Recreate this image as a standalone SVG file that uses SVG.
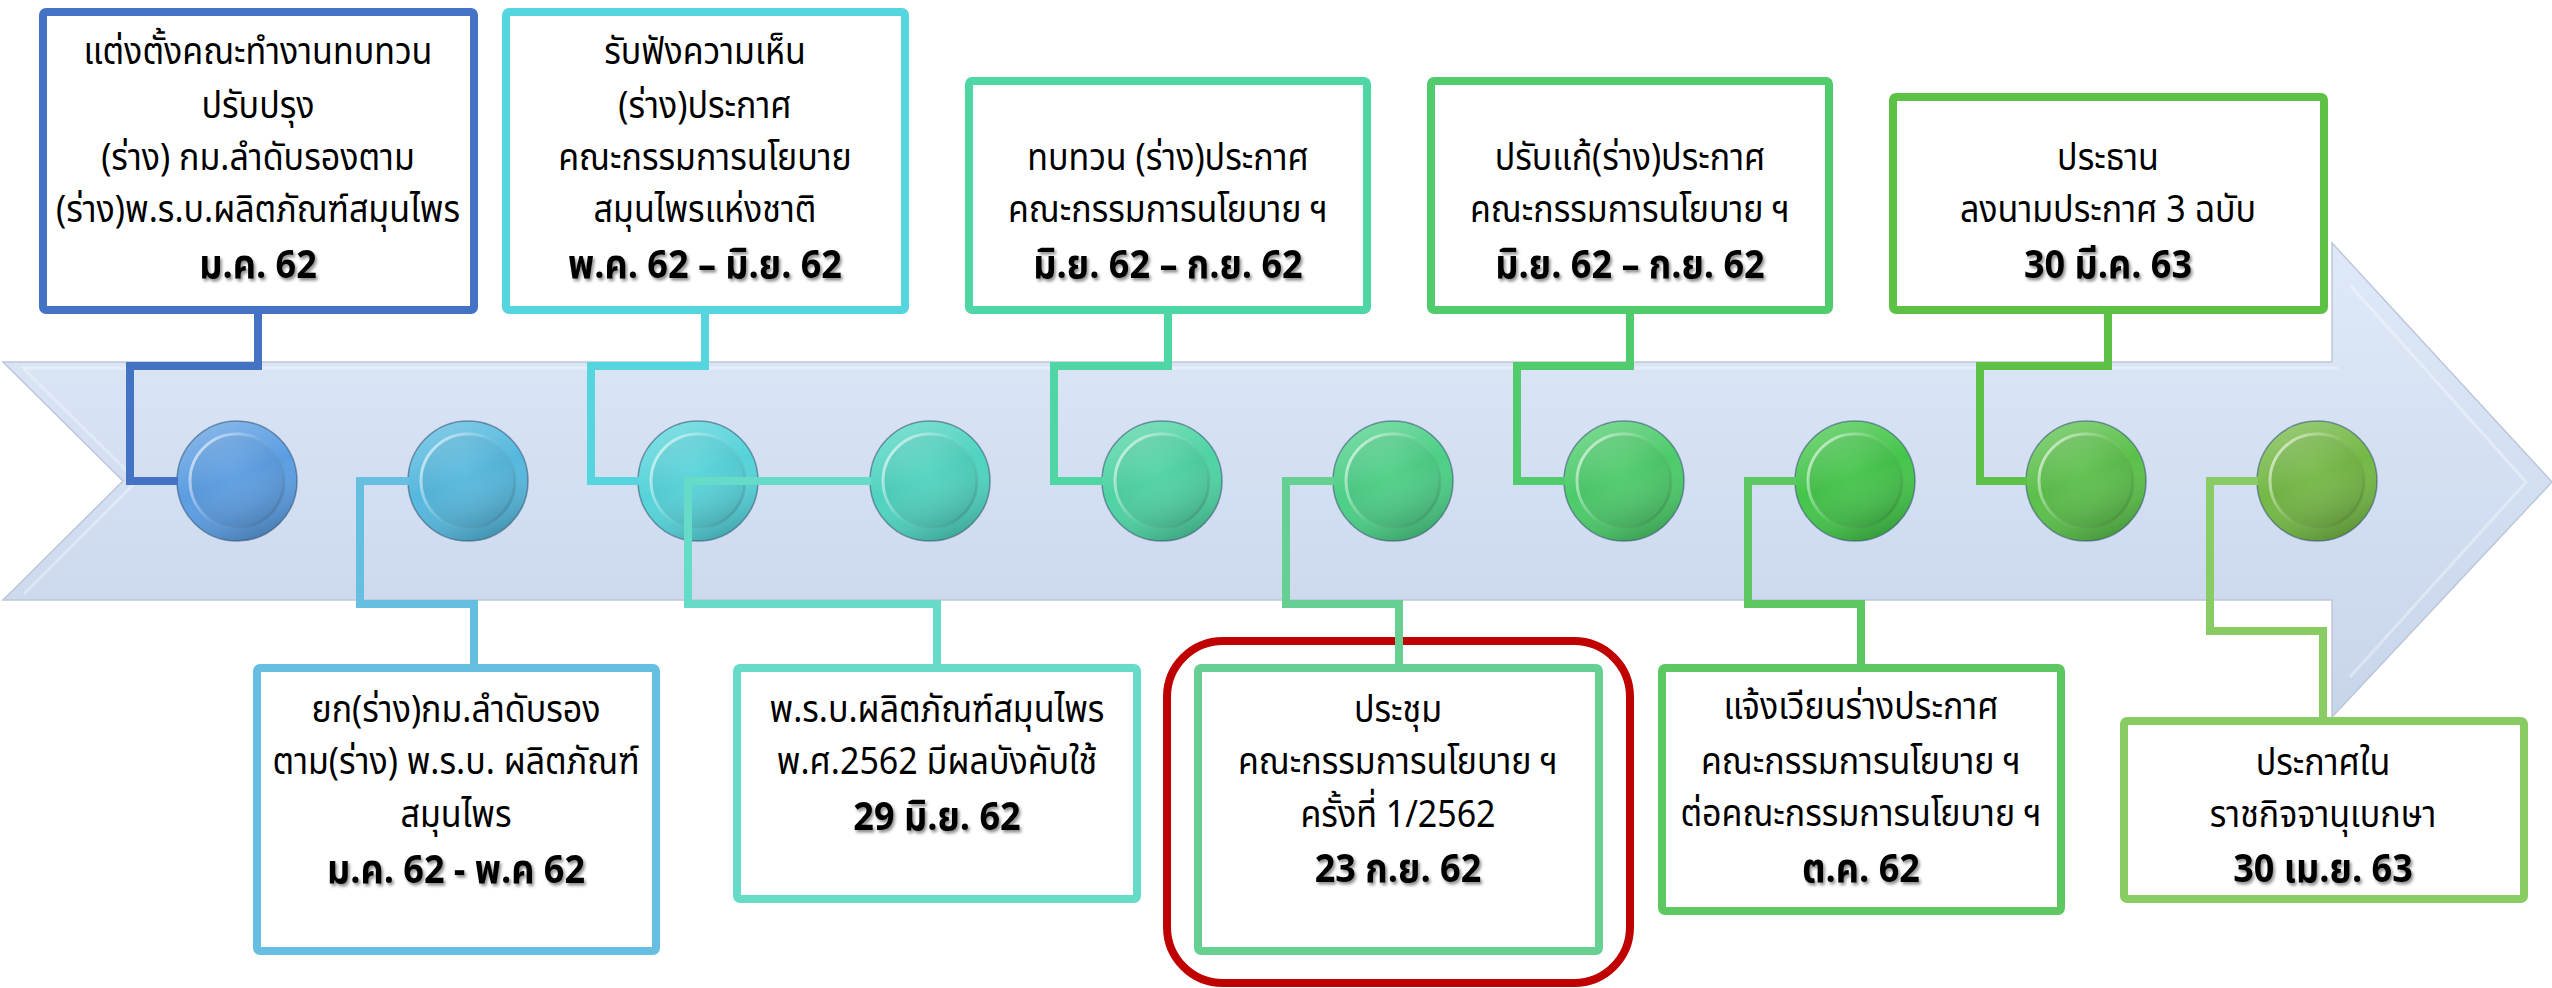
<svg xmlns="http://www.w3.org/2000/svg" width="2552" height="988" viewBox="0 0 2552 988">
<defs>
<style>
.box{fill:#fff;stroke-width:8}
.t{font-family:"Noto Sans Thai","Noto Sans Thai UI","Noto Sans","DejaVu Sans",sans-serif;font-size:38px;fill:#000;text-anchor:middle;transform-box:fill-box;transform-origin:center;transform:scaleX(0.895)}
.d{font-weight:bold;font-size:40px;transform:scaleX(0.9);filter:url(#sh)}
.conn path{fill:none;stroke-width:8;stroke-linejoin:miter;stroke-linecap:butt}
.ring{stroke:#2d4f6e;stroke-opacity:.55;stroke-width:1.5}
</style>
<filter id="sh" x="-10%" y="-30%" width="130%" height="170%">
<feDropShadow dx="2" dy="2.5" stdDeviation="1.5" flood-color="#000" flood-opacity="0.45"/>
</filter>
<linearGradient id="band" x1="0" y1="0" x2="0" y2="1">
<stop offset="0" stop-color="#dfe9f8"/>
<stop offset="1" stop-color="#c7d5eb"/>
</linearGradient>
<linearGradient id="ringShade" x1="0.2" y1="0" x2="0.6" y2="1">
<stop offset="0" stop-color="#fff" stop-opacity="0.28"/>
<stop offset="0.5" stop-color="#fff" stop-opacity="0"/>
<stop offset="1" stop-color="#000" stop-opacity="0.2"/>
</linearGradient>
<linearGradient id="innerRim" x1="0" y1="0.2" x2="1" y2="0.8">
<stop offset="0" stop-color="#fff" stop-opacity="0.65"/>
<stop offset="0.5" stop-color="#fff" stop-opacity="0.05"/>
<stop offset="1" stop-color="#000" stop-opacity="0.15"/>
</linearGradient>
<radialGradient id="innerShade" cx="0.45" cy="0.4" r="0.6">
<stop offset="0" stop-color="#fff" stop-opacity="0.05"/>
<stop offset="1" stop-color="#000" stop-opacity="0.06"/>
</radialGradient>
<g id="knob">
<circle r="60" fill="url(#ringShade)" class="ring"/>
<circle r="47" fill="url(#innerShade)" stroke="url(#innerRim)" stroke-width="3"/>
</g>
</defs>

<rect width="2552" height="988" fill="#fff"/>

<g id="timeline-arrow">
<polygon points="3,362 2332,362 2332,243 2552,482 2332,717 2332,600 3,600 123,481" fill="url(#band)" stroke="#bcc7d8" stroke-width="1.5"/>
<polyline points="22,368 2338,368" fill="none" stroke="#fff" stroke-opacity="0.35" stroke-width="3"/>
<polyline points="2350,285 2526,482 2350,677" fill="none" stroke="#fff" stroke-opacity="0.35" stroke-width="3"/>
<polyline points="24,369 137,481 24,594" fill="none" stroke="#fff" stroke-opacity="0.3" stroke-width="3"/>
</g>

<g id="markers">
<g id="m1"><circle cx="237" cy="481" r="60" fill="#5b9de2"/><circle cx="237" cy="481" r="47" fill="#5b9de2"/><use href="#knob" x="237" y="481"/></g>
<g id="m2"><circle cx="468" cy="481" r="60" fill="#55b8de"/><circle cx="468" cy="481" r="47" fill="#55b8de"/><use href="#knob" x="468" y="481"/></g>
<g id="m3"><circle cx="698" cy="481" r="60" fill="#55d3da"/><circle cx="698" cy="481" r="47" fill="#55d3da"/><use href="#knob" x="698" y="481"/></g>
<g id="m4"><circle cx="930" cy="481" r="60" fill="#4fd3c0"/><circle cx="930" cy="481" r="47" fill="#4fd3c0"/><use href="#knob" x="930" y="481"/></g>
<g id="m5"><circle cx="1162" cy="481" r="60" fill="#4ed3a2"/><circle cx="1162" cy="481" r="47" fill="#4ed3a2"/><use href="#knob" x="1162" y="481"/></g>
<g id="m6"><circle cx="1393" cy="481" r="60" fill="#4ccf86"/><circle cx="1393" cy="481" r="47" fill="#4ccf86"/><use href="#knob" x="1393" y="481"/></g>
<g id="m7"><circle cx="1624" cy="481" r="60" fill="#4ccb6a"/><circle cx="1624" cy="481" r="47" fill="#4ccb6a"/><use href="#knob" x="1624" y="481"/></g>
<g id="m8"><circle cx="1855" cy="481" r="60" fill="#44c54a"/><circle cx="1855" cy="481" r="47" fill="#44c54a"/><use href="#knob" x="1855" y="481"/></g>
<g id="m9"><circle cx="2086" cy="481" r="60" fill="#5bc04a"/><circle cx="2086" cy="481" r="47" fill="#5bc04a"/><use href="#knob" x="2086" y="481"/></g>
<g id="m10"><circle cx="2317" cy="481" r="60" fill="#74b845"/><circle cx="2317" cy="481" r="47" fill="#74b845"/><use href="#knob" x="2317" y="481"/></g>
</g>

<g id="highlight">
<rect x="1167" y="641" width="463" height="342" rx="56" fill="none" stroke="#c00000" stroke-width="8"/>
</g>

<g class="conn" id="connectors">
<path d="M258,310 V366 H130 V481 H178" stroke="#4472c4"/>
<path d="M474,668 V604 H360 V481 H409" stroke="#66bee0"/>
<path d="M705,310 V366 H591 V481 H639" stroke="#55d5de"/>
<path d="M937,668 V604 H688 V481 H871" stroke="#66dcc8"/>
<path d="M1168,310 V366 H1054 V481 H1103" stroke="#4fd6a5"/>
<path d="M1399,668 V604 H1286 V481 H1334" stroke="#66d093"/>
<path d="M1630,310 V366 H1517 V481 H1565" stroke="#50cc6c"/>
<path d="M1861,668 V604 H1748 V481 H1796" stroke="#5dc862"/>
<path d="M2108,310 V366 H1980 V481 H2027" stroke="#5cc145"/>
<path d="M2323,721 V631 H2210 V481 H2258" stroke="#8acc64"/>
</g>

<g id="n1">
<rect class="box" x="43" y="12" width="431" height="298" rx="3" stroke="#4472c4"/>
<text class="t" x="258" y="64">แต่งตั้งคณะทำงานทบทวน</text>
<text class="t" x="258" y="118">ปรับปรุง</text>
<text class="t" x="258" y="170">(ร่าง) กม.ลำดับรองตาม</text>
<text class="t" x="258" y="222">(ร่าง)พ.ร.บ.ผลิตภัณฑ์สมุนไพร</text>
<text class="t d" x="258" y="278">ม.ค. 62</text>
</g>
<g id="n2">
<rect class="box" x="506" y="12" width="399" height="298" rx="3" stroke="#55d5de"/>
<text class="t" x="705" y="64">รับฟังความเห็น</text>
<text class="t" x="705" y="118">(ร่าง)ประกาศ</text>
<text class="t" x="705" y="170">คณะกรรมการนโยบาย</text>
<text class="t" x="705" y="222">สมุนไพรแห่งชาติ</text>
<text class="t d" x="705" y="278">พ.ค. 62 – มิ.ย. 62</text>
</g>
<g id="n3">
<rect class="box" x="969" y="81" width="398" height="229" rx="3" stroke="#4fd6a5"/>
<text class="t" x="1168" y="170">ทบทวน (ร่าง)ประกาศ</text>
<text class="t" x="1168" y="222">คณะกรรมการนโยบาย ฯ</text>
<text class="t d" x="1168" y="278">มิ.ย. 62 – ก.ย. 62</text>
</g>
<g id="n4">
<rect class="box" x="1431" y="81" width="398" height="229" rx="3" stroke="#50cc6c"/>
<text class="t" x="1630" y="170">ปรับแก้(ร่าง)ประกาศ</text>
<text class="t" x="1630" y="222">คณะกรรมการนโยบาย ฯ</text>
<text class="t d" x="1630" y="278">มิ.ย. 62 – ก.ย. 62</text>
</g>
<g id="n5">
<rect class="box" x="1893" y="97" width="431" height="213" rx="3" stroke="#5cc145"/>
<text class="t" x="2108" y="170">ประธาน</text>
<text class="t" x="2108" y="222">ลงนามประกาศ 3 ฉบับ</text>
<text class="t d" x="2108" y="278">30 มี.ค. 63</text>
</g>
<g id="n6">
<rect class="box" x="257" y="668" width="399" height="283" rx="3" stroke="#66bee0"/>
<text class="t" x="456" y="722">ยก(ร่าง)กม.ลำดับรอง</text>
<text class="t" x="456" y="774">ตาม(ร่าง) พ.ร.บ. ผลิตภัณฑ์</text>
<text class="t" x="456" y="827">สมุนไพร</text>
<text class="t d" x="456" y="883">ม.ค. 62 - พ.ค 62</text>
</g>
<g id="n7">
<rect class="box" x="737" y="668" width="400" height="231" rx="3" stroke="#66dcc8"/>
<text class="t" x="937" y="722">พ.ร.บ.ผลิตภัณฑ์สมุนไพร</text>
<text class="t" x="937" y="774">พ.ศ.2562 มีผลบังคับใช้</text>
<text class="t d" x="937" y="830">29 มิ.ย. 62</text>
</g>
<g id="n8">
<rect class="box" x="1198" y="668" width="401" height="283" rx="3" stroke="#66d093"/>
<text class="t" x="1398" y="722">ประชุม</text>
<text class="t" x="1398" y="774">คณะกรรมการนโยบาย ฯ</text>
<text class="t" x="1398" y="827">ครั้งที่ 1/2562</text>
<text class="t d" x="1398" y="882">23 ก.ย. 62</text>
</g>
<g id="n9">
<rect class="box" x="1662" y="668" width="399" height="243" rx="3" stroke="#5dc862"/>
<text class="t" x="1861" y="719">แจ้งเวียนร่างประกาศ</text>
<text class="t" x="1861" y="774">คณะกรรมการนโยบาย ฯ</text>
<text class="t" x="1861" y="826">ต่อคณะกรรมการนโยบาย ฯ</text>
<text class="t d" x="1861" y="882">ต.ค. 62</text>
</g>
<g id="n10">
<rect class="box" x="2124" y="721" width="400" height="178" rx="3" stroke="#8acc64"/>
<text class="t" x="2323" y="775">ประกาศใน</text>
<text class="t" x="2323" y="827">ราชกิจจานุเบกษา</text>
<text class="t d" x="2323" y="882">30 เม.ย. 63</text>
</g>
</svg>
